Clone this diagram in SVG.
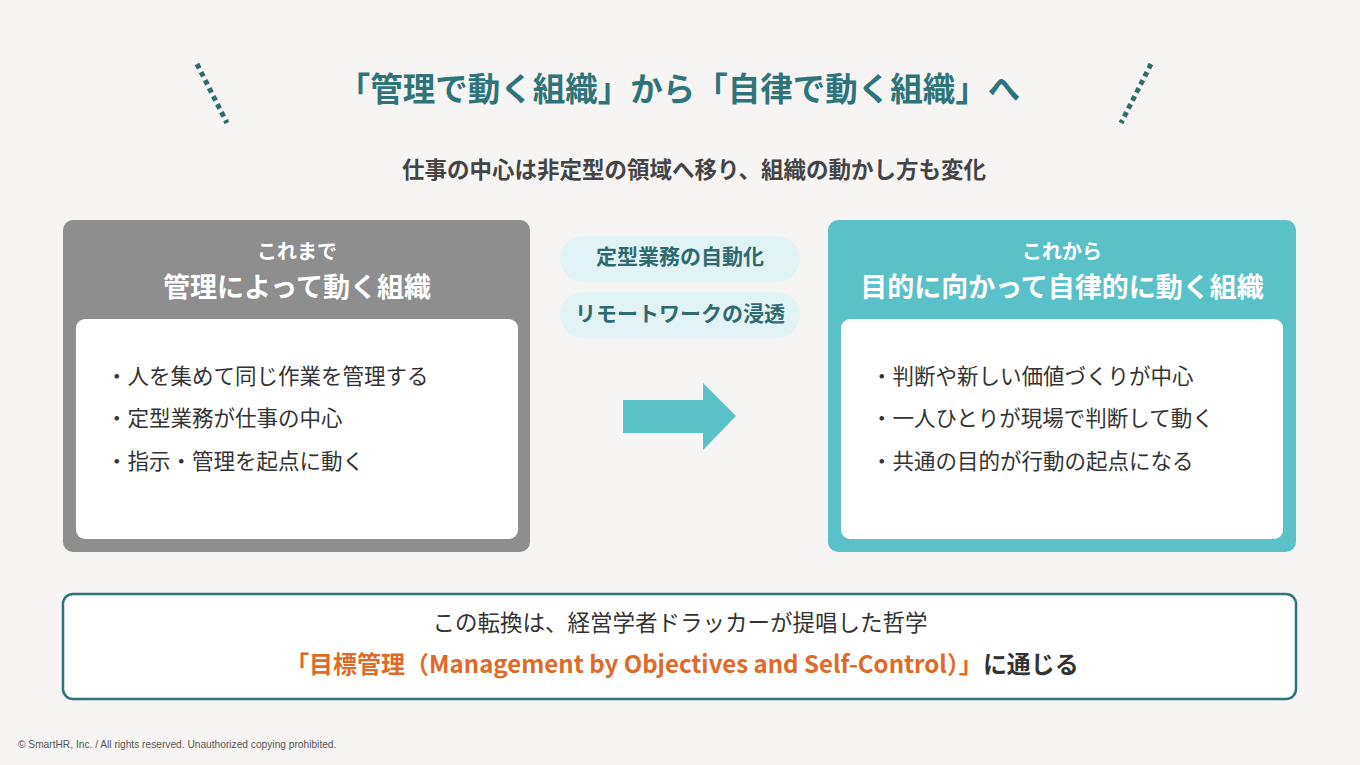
<svg xmlns="http://www.w3.org/2000/svg" width="1360" height="765" viewBox="0 0 1360 765">
<style>
text{font-family:"Noto Sans CJK JP","Liberation Sans",sans-serif}
.t{fill:#2f7478;font-weight:bold}
.d{stroke:#2f6b6e;stroke-width:5;stroke-dasharray:5,4}
.li{font-size:21.5px;fill:#333}
.pill{fill:#e1f3f4}
.pt{font-size:21px;font-weight:bold;fill:#2f6b6e;text-anchor:middle}
.hd{fill:#fff;font-weight:bold;text-anchor:middle}
</style>
<rect width="1360" height="765" fill="#f6f5f4"/>
<line class="d" x1="197" y1="64" x2="227" y2="123"/>
<line class="d" x1="1151" y1="64" x2="1121" y2="123"/>
<text x="679" y="101" class="t" font-size="32.5" text-anchor="middle">「管理で動く組織」から「自律で動く組織」へ</text>
<text x="694" y="178" font-size="22.5" font-weight="bold" fill="#444" text-anchor="middle">仕事の中心は非定型の領域へ移り、組織の動かし方も変化</text>
<g id="left">
<rect x="63" y="220" width="467" height="332" rx="10" fill="#8e8e8e"/>
<text x="297" y="259" class="hd" font-size="20">これまで</text>
<text x="297" y="297" class="hd" font-size="27">管理によって動く組織</text>
<rect x="76" y="319" width="442" height="220" rx="9" fill="#fff"/>
<text x="106" y="384" class="li">・人を集めて同じ作業を管理する</text>
<text x="106" y="426" class="li">・定型業務が仕事の中心</text>
<text x="106" y="469" class="li">・指示・管理を起点に動く</text>
</g>
<g id="pill1"><rect x="560" y="236" width="240" height="46" rx="23" class="pill"/><text x="680" y="264" class="pt">定型業務の自動化</text></g>
<g id="pill2"><rect x="560" y="292" width="240" height="46" rx="23" class="pill"/><text x="680" y="321" class="pt">リモートワークの浸透</text></g>
<g id="connectors"><polygon points="623,400 703,400 703,383 736,416 703,450 703,433 623,433" fill="#5bc1c8"/></g>
<g id="right">
<rect x="828" y="220" width="468" height="332" rx="10" fill="#5bc1c8"/>
<text x="1062" y="259" class="hd" font-size="20">これから</text>
<text x="1062" y="297" class="hd" font-size="27">目的に向かって自律的に動く組織</text>
<rect x="841" y="319" width="442" height="220" rx="9" fill="#fff"/>
<text x="871" y="384" class="li">・判断や新しい価値づくりが中心</text>
<text x="871" y="426" class="li">・一人ひとりが現場で判断して動く</text>
<text x="871" y="469" class="li">・共通の目的が行動の起点になる</text>
</g>
<g id="bottom">
<rect x="63" y="594" width="1233" height="105" rx="10" fill="#fff" stroke="#2f7478" stroke-width="2.5"/>
<text x="680" y="631" font-size="22.5" fill="#333" text-anchor="middle">この転換は、経営学者ドラッカーが提唱した哲学</text>
<text x="682" y="673" font-size="24" font-weight="bold" text-anchor="middle"><tspan fill="#e06a28">「目標管理（Management by Objectives and Self-Control）」</tspan><tspan fill="#333">に通じる</tspan></text>
</g>
<text x="18" y="748" style="font-family:'Liberation Sans',sans-serif;font-size:10.2px" fill="#555">© SmartHR, Inc. / All rights reserved. Unauthorized copying prohibited.</text>
</svg>
